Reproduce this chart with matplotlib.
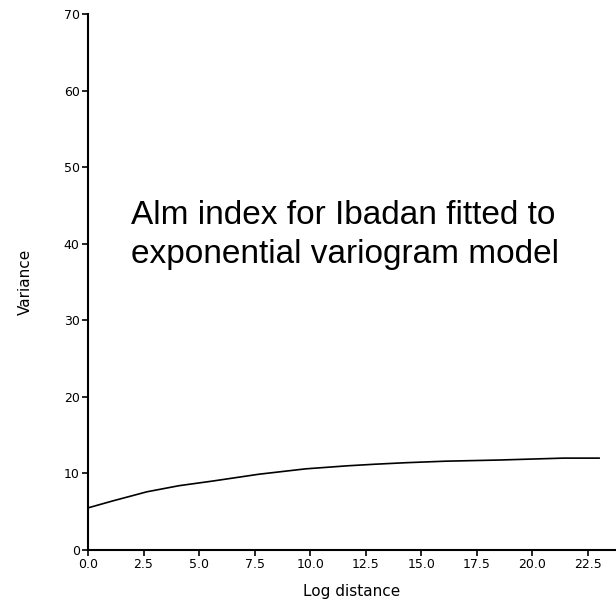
## Exponential variogram model for the Alm index, Ibadan

import numpy as np
import matplotlib.pyplot as plt

# fitted curve
lag_distance = [0.0, 1.1, 2.65, 4.1, 5.6, 7.7, 9.8, 11.7, 12.9, 14.3, 16.1, 18.5, 21.4, 23.0]
variance = [5.5, 6.4, 7.6, 8.4, 9.0, 9.9, 10.6, 11.0, 11.2, 11.4, 11.6, 11.75, 12.0, 12.0]

x_ticks = [0.0, 2.5, 5.0, 7.5, 10.0, 12.5, 15.0, 17.5, 20.0, 22.5]
x_tick_labels = ['0.0', '2.5', '5.0', '7.5', '10.0', '12.5', '15.0', '17.5', '20.0', '22.5']
y_ticks = [0, 10, 20, 30, 40, 50, 60, 70]

tick_font = ['Liberation Sans Narrow', 'DejaVu Sans']

fig = plt.figure(figsize=(6.16, 6.08), dpi=100)
ax = fig.add_axes([88/616, 58/608, 1 - 88/616, (550 - 14)/608])

ax.plot(lag_distance, variance, color='black', linewidth=1.2)

ax.set_xlim(0, 23.76)
ax.set_ylim(0, 70)
ax.set_xticks(x_ticks)
ax.set_xticklabels(x_tick_labels, family=tick_font, fontsize=9)
ax.set_yticks(y_ticks)
ax.set_yticklabels([str(v) for v in y_ticks], family=tick_font, fontsize=9)
ax.tick_params(direction='out', length=4, width=1.2, pad=2)

for side in ['top', 'right']:
	ax.spines[side].set_visible(False)
for side in ['left', 'bottom']:
	ax.spines[side].set_linewidth(1.5)

ax.set_xlabel('Log distance', family=tick_font, fontsize=11, labelpad=9)
ax.set_ylabel('Variance', family=tick_font, fontsize=11, labelpad=22)

# last line baseline sits near y=263 px from the top
ax.text(131/616, 1 - 263/608, 'Alm index for Ibadan fitted to\nexponential variogram model',
	transform=fig.transFigure, family=['Liberation Sans', 'DejaVu Sans'], fontsize=24,
	va='baseline', ha='left', linespacing=1.33)

fig.savefig('out.png', dpi=100)
